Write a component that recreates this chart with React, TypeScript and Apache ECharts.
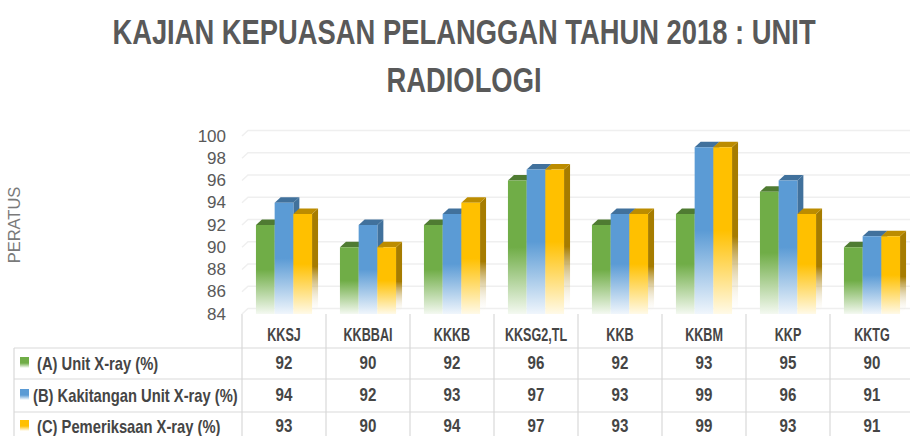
import React, { useEffect, useRef } from "react";
import * as echarts from "echarts";

const titleText = "KAJIAN KEPUASAN PELANGGAN TAHUN 2018 : UNIT\nRADIOLOGI";
const yName = "PERATUS";
const categories = ["KKSJ", "KKBBAI", "KKKB", "KKSG2,TL", "KKB", "KKBM", "KKP", "KKTG"];
const seriesA = [92, 90, 92, 96, 92, 93, 95, 90];
const seriesB = [94, 92, 93, 97, 93, 99, 96, 91];
const seriesC = [93, 90, 94, 97, 93, 99, 93, 91];
const nameA = "(A) Unit X-ray (%)";
const nameB = "(B) Kakitangan Unit X-ray (%)";
const nameC = "(C) Pemeriksaan X-ray (%)";
const yTicks = [84, 86, 88, 90, 92, 94, 96, 98, 100];

const FONT = "'Liberation Sans', sans-serif";
const GRID = { left: 242, top: 136, width: 672, height: 178 };
const DX = 6;
const DY = 5.5;
const BAR_W = 18.7;
const TEXT = "#454545";
const LINE = "#d9d9d9";

const grad = (color: string, light: string, start = 0.5) =>
  new echarts.graphic.LinearGradient(0, 0, 0, 1, [
    { offset: 0, color },
    { offset: start, color },
    { offset: 1, color: light },
  ]);

const barRender = (idx: number, front: string, fade: string, top: string, side: string) =>
  (_p: any, api: any) => {
    const cat = api.value(0);
    const val = api.value(1);
    const [cx, y] = api.coord([cat, val]);
    const y0 = api.coord([cat, 84])[1];
    const x0 = cx - BAR_W * 1.5 + idx * BAR_W;
    const x1 = x0 + BAR_W;
    return {
      type: "group",
      children: [
        {
          type: "polygon",
          shape: { points: [[x1, y], [x1 + DX, y - DY], [x1 + DX, y0 - DY], [x1, y0]] },
          style: { fill: grad(side, "rgba(255,255,255,0)", 0.55) },
        },
        {
          type: "polygon",
          shape: { points: [[x0, y], [x0 + DX, y - DY], [x1 + DX, y - DY], [x1, y]] },
          style: { fill: top },
        },
        {
          type: "rect",
          shape: { x: x0, y, width: BAR_W, height: y0 - y },
          style: { fill: grad(front, fade) },
        },
      ],
    };
  };

const wallRender = (_p: any, api: any) => {
  const v = api.value(0);
  const y = api.coord([0, v])[1];
  const x = GRID.left;
  return {
    type: "polyline",
    shape: { points: [[x, y], [x + DX, y - DY], [910, y - DY]] },
    style: { fill: "none", stroke: "#efefef", lineWidth: 1.5 },
  };
};

function tableGraphics() {
  const items: any[] = [];
  const rows = [
    { name: nameA, vals: seriesA, color: "#70ad47", x: 37, y: 363 },
    { name: nameB, vals: seriesB, color: "#5b9bd5", x: 33, y: 395 },
    { name: nameC, vals: seriesC, color: "#ffc000", x: 37, y: 426 },
  ];
  const cw = GRID.width / categories.length;
  const line = (x1: number, y1: number, x2: number, y2: number) => ({
    type: "line",
    shape: { x1, y1, x2, y2 },
    style: { stroke: LINE, lineWidth: 1.2 },
    silent: true,
  });
  const label = (text: string, x: number, y: number, align: string, scaleX: number, size = 18) => ({
    type: "text",
    x,
    y,
    scaleX,
    style: { text, font: `bold ${size}px ${FONT}`, fill: TEXT, align, verticalAlign: "middle" },
  });
  [348, 379, 412].forEach((y) => items.push(line(14, y, 910, y)));
  items.push(line(14, 348, 14, 436));
  categories.forEach((c, i) => {
    items.push(line(GRID.left + i * cw, 314, GRID.left + i * cw, 436));
    items.push(label(c, GRID.left + cw * (i + 0.5), 335, "center", 0.7));
  });
  rows.forEach((r) => {
    items.push({
      type: "rect",
      shape: { x: 20, y: r.y - 6, width: 9, height: 11 },
      style: { fill: grad(r.color, "#ffffff", 0.55) },
    });
    items.push(label(r.name, r.x, r.y, "left", 0.82));
    r.vals.forEach((v, i) => items.push(label(String(v), GRID.left + cw * (i + 0.5), r.y, "center", 0.84)));
  });
  items.push({
    type: "text",
    x: 464,
    y: 56,
    scaleX: 0.76,
    style: {
      text: titleText,
      font: `bold 36px ${FONT}`,
      lineHeight: 48,
      fill: "#595959",
      align: "center",
      verticalAlign: "middle",
    },
  });
  return items;
}

export default function App() {
  const ref = useRef<HTMLDivElement>(null);
  useEffect(() => {
    document.body.style.margin = "0";
    const chart = echarts.init(ref.current!, undefined, { renderer: "svg" });
    const mk = (name: string, data: number[], idx: number, f: string, fade: string, t: string, s: string) => ({
      type: "custom",
      name,
      coordinateSystem: "cartesian2d",
      encode: { x: 0, y: 1 },
      data: data.map((v, i) => [i, v]),
      renderItem: barRender(idx, f, fade, t, s),
      z: 3,
    });
    chart.setOption({
      animation: false,
      backgroundColor: "#ffffff",
      grid: { ...GRID, containLabel: false, outerBoundsMode: "none" },
      xAxis: {
        type: "category",
        data: categories,
        axisLine: { show: false },
        axisTick: { show: false },
        splitLine: { show: false },
        axisLabel: { show: false },
      },
      yAxis: {
        type: "value",
        min: 84,
        max: 100,
        interval: 2,
        name: yName,
        nameLocation: "middle",
        nameGap: 220,
        nameTextStyle: { fontFamily: FONT, fontSize: 16.5, color: "#7a7a7a" },
        axisLine: { show: false },
        axisTick: { show: false },
        splitLine: { show: false },
        axisLabel: { fontFamily: FONT, fontSize: 17, color: "#595959", margin: 16 },
      },
      graphic: tableGraphics(),
      series: [
        {
          type: "custom",
          coordinateSystem: "cartesian2d",
          encode: { y: 0 },
          data: yTicks.map((v) => [v]),
          renderItem: wallRender,
          silent: true,
          z: 1,
        },
        mk(nameA, seriesA, 0, "#70ad47", "#f4f9f1", "#4f7b32", "#507d33"),
        mk(nameB, seriesB, 1, "#5b9bd5", "#f0f6fc", "#41719c", "#41719c"),
        mk(nameC, seriesC, 2, "#ffc000", "#fffae8", "#bc8c00", "#a67c00"),
      ],
    });
    return () => chart.dispose();
  }, []);
  return <div ref={ref} style={{ width: 910, height: 436 }} />;
}
